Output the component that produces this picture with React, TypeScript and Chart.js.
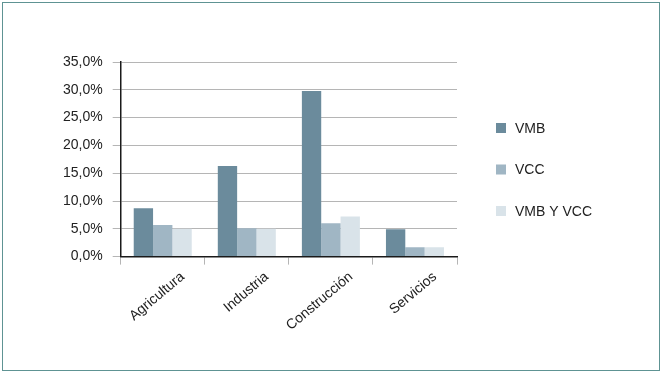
import React, { useEffect, useRef } from "react";
import { Chart, registerables } from "chart.js";

Chart.register(...registerables);

const categories = ["Agricultura", "Industria", "Construcción", "Servicios"];
const seriesNames = ["VMB", "VCC", "VMB Y VCC"];
const vmb = [8.7, 16.3, 29.8, 4.9];
const vcc = [5.7, 5.1, 6.0, 1.7];
const vmbVcc = [5.0, 5.0, 7.2, 1.7];
const colors = ["#6b8b9c", "#a0b6c4", "#d9e3e9"];
const yTicks = [0, 5, 10, 15, 20, 25, 30, 35];

const FONT = "'Liberation Sans', Arial, Helvetica, sans-serif";

const legendPlugin = {
  id: "customLegend",
  afterDraw(chart: any) {
    const ctx = chart.ctx;
    const area = chart.chartArea;
    ctx.save();
    ctx.font = `14px ${FONT}`;
    ctx.textBaseline = "middle";
    ctx.textAlign = "left";
    chart.data.datasets.forEach((ds: any, i: number) => {
      const x = area.right + 39;
      const y = area.top + 66 + i * 41.5;
      ctx.fillStyle = ds.backgroundColor;
      ctx.fillRect(x, y - 5, 10, 10);
      ctx.fillStyle = "#222222";
      ctx.fillText(ds.label, x + 19, y + 1);
    });
    ctx.restore();
  },
};

export default function App() {
  const ref = useRef<HTMLCanvasElement | null>(null);
  useEffect(() => {
    if (!ref.current) return;
    const data = [vmb, vcc, vmbVcc];
    const chart = new Chart(ref.current, {
      type: "bar",
      data: {
        labels: categories,
        datasets: seriesNames.map((name, i) => ({
          label: name,
          data: data[i],
          backgroundColor: colors[i],
          borderWidth: 0,
          barPercentage: 1,
          categoryPercentage: 0.69,
        })),
      },
      options: {
        responsive: false,
        animation: false,
        devicePixelRatio: 1,
        layout: { padding: { left: 53, right: 209, top: 62, bottom: 37 } },
        plugins: {
          legend: { display: false },
          tooltip: { enabled: false },
        },
        scales: {
          x: {
            offset: true,
            grid: {
              offset: true,
              drawOnChartArea: false,
              drawTicks: true,
              tickLength: 8,
              color: "#b5b5b5",
            },
            border: { color: "#1a1a1a", width: 1.5 },
            ticks: {
              minRotation: 40,
              maxRotation: 40,
              labelOffset: 20,
              padding: 4,
              color: "#222222",
              font: { family: FONT, size: 14 },
            },
          },
          y: {
            min: 0,
            max: 35,
            afterBuildTicks: (axis: any) => {
              axis.ticks = yTicks.map((v) => ({ value: v }));
            },
            grid: {
              color: "#b5b5b5",
              tickLength: 8,
              lineWidth: 1,
            },
            border: { color: "#1a1a1a", width: 1.5 },
            ticks: {
              padding: 10,
              color: "#222222",
              font: { family: FONT, size: 14 },
              callback: (v: any) => Number(v).toFixed(1).replace(".", ",") + "%",
            },
          },
        },
      },
      plugins: [legendPlugin],
    });
    return () => chart.destroy();
  }, []);

  return (
    <div style={{ position: "absolute", left: 0, top: 0, width: 666, height: 375, background: "#ffffff" }}>
      <div
        style={{
          position: "absolute",
          left: 2,
          top: 2,
          width: 658,
          height: 369,
          border: "1.5px solid #5e9393",
          boxSizing: "border-box",
        }}
      />
      <canvas
        ref={ref}
        width={666}
        height={375}
        style={{ position: "absolute", left: 0, top: 0, width: 666, height: 375 }}
      />
    </div>
  );
}
